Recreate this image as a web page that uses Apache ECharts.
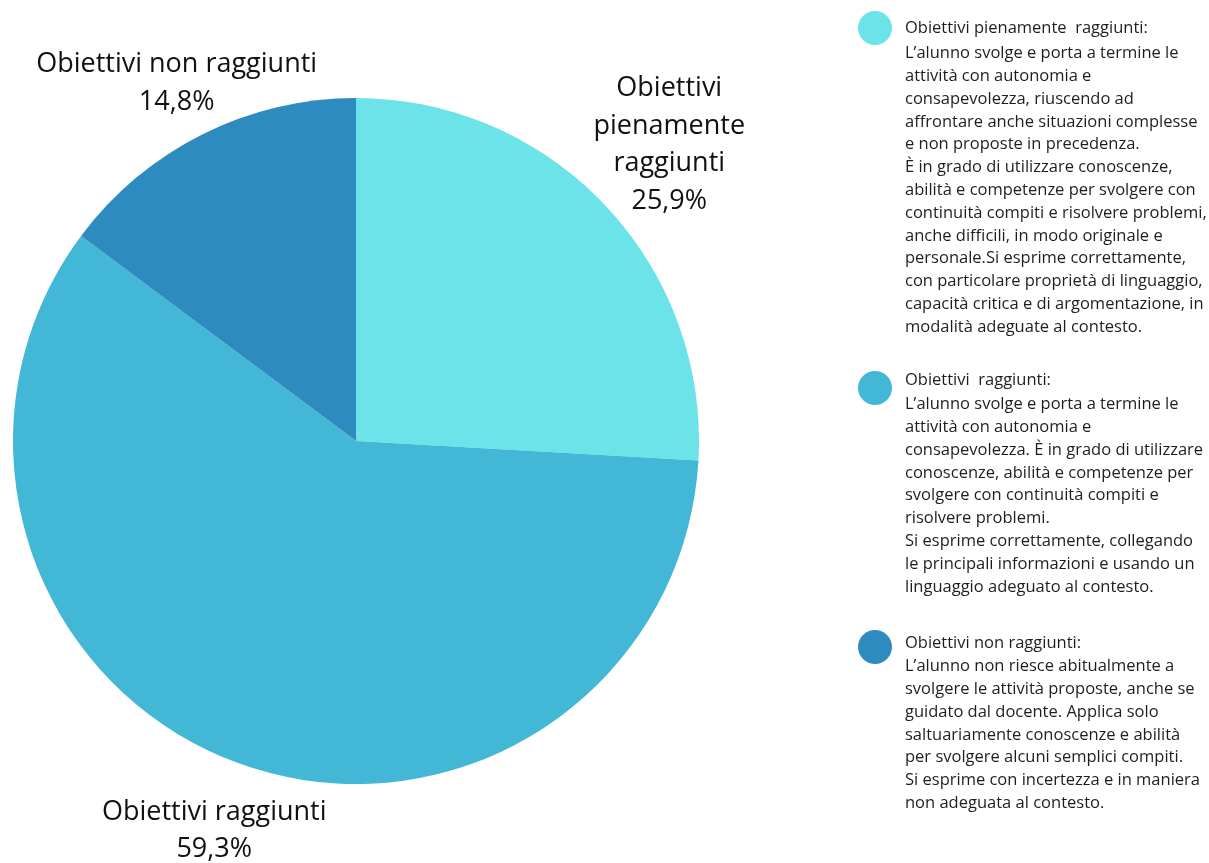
<!DOCTYPE html>
<html>
<head>
<meta charset="utf-8">
<script src="https://cdn.jsdelivr.net/npm/echarts@6/dist/echarts.min.js"></script>
<style>
  html, body { margin: 0; padding: 0; background: #fff; }
  #chart { width: 1209px; height: 863px; }
</style>
</head>
<body>
<div id="chart"></div>
<script>
// data
var headings = [
    'Obiettivi pienamente  raggiunti:',
    'Obiettivi  raggiunti:',
    'Obiettivi non raggiunti:'
];
var sliceLabels = [
    'Obiettivi\npienamente\nraggiunti',
    'Obiettivi raggiunti',
    'Obiettivi non raggiunti'
];
var percentages = [25.9, 59.3, 14.8];
var colors = ['#6be3e9', '#43b7d6', '#2e8bbf'];
var descriptions = [
    "L\u2019alunno svolge e porta a termine le\nattività con autonomia e\nconsapevolezza, riuscendo ad\naffrontare anche situazioni complesse\ne non proposte in precedenza.\nÈ in grado di utilizzare conoscenze,\nabilità e competenze per svolgere con\ncontinuità compiti e risolvere problemi,\nanche difficili, in modo originale e\npersonale.Si esprime correttamente,\ncon particolare proprietà di linguaggio,\ncapacità critica e di argomentazione, in\nmodalità adeguate al contesto.",
    "L\u2019alunno svolge e porta a termine le\nattività con autonomia e\nconsapevolezza. È in grado di utilizzare\nconoscenze, abilità e competenze per\nsvolgere con continuità compiti e\nrisolvere problemi.\nSi esprime correttamente, collegando\nle principali informazioni e usando un\nlinguaggio adeguato al contesto.",
    "L\u2019alunno non riesce abitualmente a\nsvolgere le attività proposte, anche se\nguidato dal docente. Applica solo\nsaltuariamente conoscenze e abilità\nper svolgere alcuni semplici compiti.\nSi esprime con incertezza e in maniera\nnon adeguata al contesto."
];

// layout
var cx = 356, cy = 441, radius = 343;
var labelDist = [431, 415, 400];
var legendTops = [11, 371, 630];
var legendShift = [0, 8, 4];
var descTops = [42, 393, 655];
var FONT = '"Open Sans", "Noto Sans", sans-serif';

var chart = echarts.init(document.getElementById('chart'));

var total = percentages.reduce(function (a, b) { return a + b; }, 0);
var midAngles = [];
var acc = 0;
percentages.forEach(function (v) {
    midAngles.push((acc + v / 2) / total * 2 * Math.PI);
    acc += v;
});

var option = {
    animation: false,
    color: colors,
    legend: headings.map(function (h, i) {
        return {
            data: [h],
            left: 858,
            top: legendTops[i],
            padding: 0,
            icon: 'circle',
            itemWidth: 34,
            itemHeight: 34,
            selectedMode: false,
            formatter: function (name) {
                return '{h|' + name + '}';
            },
            textStyle: {
                rich: {
                    h: {
                        fontFamily: FONT,
                        fontSize: 16.5,
                        color: '#1e1e1e',
                        lineHeight: 23,
                        padding: [0, 0, legendShift[i] * 2, 8]
                    }
                }
            }
        };
    }),
    title: descriptions.map(function (d, i) {
        return {
            text: d,
            left: 905,
            top: descTops[i],
            padding: 0,
            textStyle: {
                fontFamily: FONT,
                fontSize: 16.5,
                fontWeight: 'normal',
                color: '#1e1e1e',
                lineHeight: 22.8
            }
        };
    }),
    series: [{
        type: 'pie',
        center: [cx, cy],
        radius: radius,
        startAngle: 90,
        clockwise: true,
        avoidLabelOverlap: false,
        data: headings.map(function (h, i) {
            return { name: h, value: percentages[i] };
        }),
        itemStyle: { borderWidth: 0 },
        emphasis: { disabled: true },
        label: {
            show: true,
            position: 'inside',
            fontFamily: FONT,
            fontSize: 27,
            color: '#111',
            lineHeight: 37.5,
            align: 'center',
            formatter: function (p) {
                return sliceLabels[p.dataIndex] + '\n' +
                    String(p.value).replace('.', ',') + '%';
            }
        },
        labelLine: { show: false },
        labelLayout: function (p) {
            var a = midAngles[p.dataIndex];
            var r = labelDist[p.dataIndex];
            return {
                x: cx + r * Math.sin(a),
                y: cy - r * Math.cos(a),
                align: 'center',
                verticalAlign: 'middle'
            };
        }
    }]
};

chart.setOption(option);
</script>
</body>
</html>
